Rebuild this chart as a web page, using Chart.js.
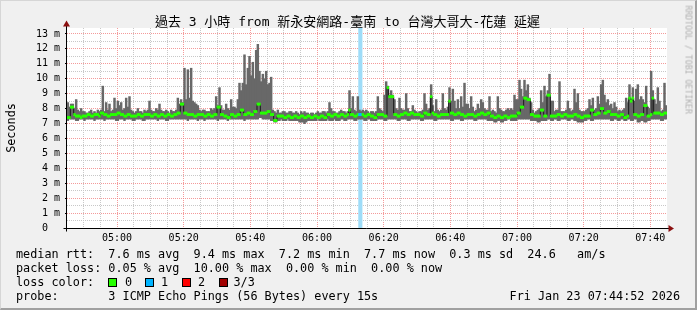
<!DOCTYPE html>
<html><head><meta charset="utf-8">
<script src="https://cdn.jsdelivr.net/npm/chart.js@4.4.0/dist/chart.umd.min.js"></script>
<style>
html,body{margin:0;padding:0;}
body{width:697px;height:310px;overflow:hidden;background:#f0f0f0;position:relative;font-family:"DejaVu Sans Mono",monospace;}
#frame{position:absolute;left:0;top:0;width:697px;height:310px;box-sizing:border-box;border-top:1px solid #d6d6d6;border-left:1px solid #d6d6d6;border-right:2px solid #a0a0a0;border-bottom:2px solid #a0a0a0;pointer-events:none;}
canvas{position:absolute;left:0;top:0;}
.t{position:absolute;white-space:pre;color:#000;}
.leg{left:16px;font-size:11.8px;line-height:14px;height:14px;}
.box{position:absolute;width:7px;height:7px;border:1px solid #000;top:278px;}
</style></head>
<body>
<canvas id="c" width="697" height="310"></canvas>
<div class="t" style="left:0;width:695px;top:13px;text-align:center;font-size:13px;line-height:17px;font-family:'DejaVu Sans Mono','Noto Sans CJK TC',monospace;">過去 3 小時 from 新永安網路-臺南 to 台灣大哥大-花蓮 延遲</div>
<div class="t" style="left:-19px;top:120.5px;width:60px;height:14px;line-height:14px;text-align:center;font-size:11.8px;transform:rotate(-90deg);">Seconds</div>
<div class="t" style="left:633.5px;top:54.5px;width:109px;height:10px;line-height:10px;font-size:8.2px;color:#b0b0b0;transform:rotate(90deg);">RRDTOOL / TOBI OETIKER</div>
<div class="t leg" style="top:247.3px">median rtt:  7.6 ms avg  9.4 ms max  7.2 ms min  7.7 ms now  0.3 ms sd  24.6   am/s</div>
<div class="t leg" style="top:261.3px">packet loss: 0.05 % avg  10.00 % max  0.00 % min  0.00 % now</div>
<div class="t leg" style="top:275.3px">loss color:</div>
<div class="box" style="left:108px;background:#26ff00"></div><div class="t leg" style="top:275.3px;left:125px">0</div>
<div class="box" style="left:145px;background:#00b4ff"></div><div class="t leg" style="top:275.3px;left:161px">1</div>
<div class="box" style="left:182px;background:#ff0000"></div><div class="t leg" style="top:275.3px;left:198px">2</div>
<div class="box" style="left:219px;background:#a10000"></div><div class="t leg" style="top:275.3px;left:233.5px">3/3</div>
<div class="t leg" style="top:289.3px">probe:       3 ICMP Echo Pings (56 Bytes) every 15s</div>
<div class="t leg" style="top:289.3px;left:auto;right:17px">Fri Jan 23 07:44:52 2026</div>
<div id="frame"></div>
<script>
// ---- data (ms), one bin per half minute starting 04:45 ----
const startTime = '04:45';
const stepMinutes = 0.5;
const medianRtt = [
 7.4,7.4,8.1,8.1,7.6,7.5,7.5,7.5,7.4,7.5,7.5,7.5,7.6,7.6,7.5,7.5,7.6,7.6,7.6,7.5,
 7.7,7.7,7.6,7.6,7.5,7.5,7.6,7.6,7.6,7.6,7.7,7.7,7.6,7.6,7.5,7.5,7.6,7.6,7.5,7.5,
 7.5,7.5,7.6,7.6,7.5,7.5,7.6,7.6,7.6,7.6,7.5,7.5,7.6,7.6,7.5,7.5,7.6,7.6,7.5,7.5,
 7.6,7.6,7.5,7.5,7.6,7.6,7.7,7.7,8.3,8.3,7.7,7.7,7.6,7.6,7.6,7.6,7.5,7.5,7.6,7.6,
 7.6,7.6,7.5,7.5,7.6,7.6,7.5,7.5,7.6,7.6,8.1,8.1,7.6,7.6,7.5,7.5,7.4,7.4,7.6,7.6,
 7.5,7.5,7.6,7.6,7.9,7.9,7.6,7.6,7.7,7.7,7.6,7.6,7.8,7.8,8.3,8.3,7.7,7.7,7.7,7.7,
 7.8,7.8,7.6,7.6,7.2,7.2,7.5,7.5,7.5,7.5,7.4,7.4,7.5,7.5,7.4,7.4,7.5,7.5,7.4,7.4,
 7.5,7.5,7.4,7.4,7.5,7.5,7.4,7.4,7.5,7.5,7.4,7.4,7.5,7.5,7.4,7.4,7.6,7.6,7.5,7.5,
 7.6,7.6,7.5,7.5,7.6,7.6,7.5,7.5,7.6,7.9,7.6,7.6,7.5,7.5,7.6,7.6,7.6,7.6,7.5,7.5,
 7.6,7.6,7.5,7.5,7.4,7.4,7.6,7.6,7.6,7.6,7.5,7.5,9.4,8.8,8.8,8.8,7.6,7.6,7.5,7.5,
 7.6,7.6,7.7,7.7,7.6,7.6,7.7,7.7,7.6,7.6,7.6,7.6,7.5,7.5,7.7,7.7,7.6,7.6,8.8,7.7,
 7.6,7.6,7.5,7.5,7.6,7.6,7.6,7.6,7.6,8.5,7.7,7.7,7.6,7.6,7.7,7.7,7.6,7.6,7.5,7.5,
 7.6,7.6,7.6,7.6,7.5,7.5,7.6,7.6,7.7,7.7,7.6,7.6,7.7,7.7,7.5,7.5,7.4,7.4,7.5,7.5,
 7.4,7.4,7.5,7.5,7.4,7.4,7.5,7.5,7.5,7.5,7.7,7.7,8.1,8.1,8.7,8.7,8.6,8.6,7.6,7.6,
 7.5,7.5,7.5,7.5,7.9,7.9,7.5,7.5,8.9,8.9,7.5,7.5,7.5,7.5,7.6,7.6,7.5,7.5,7.6,7.6,
 7.5,7.5,7.5,7.5,7.6,7.6,7.5,7.5,7.4,7.4,7.5,7.5,7.5,7.5,7.9,7.9,7.6,7.6,7.7,7.7,
 8.0,8.0,7.7,7.7,7.8,7.8,7.6,7.6,7.6,7.6,7.5,7.5,7.6,7.6,7.4,7.4,7.5,8.7,8.5,8.7,
 7.6,7.6,7.5,7.5,7.6,7.6,8.2,8.2,7.5,7.5,7.6,8.7,7.7,7.7,7.7,7.7,7.6,7.6,7.7,7.7];
const smokeMax = [
 8.4,8.1,8.3,8.3,8.0,8.6,7.9,7.8,8.0,7.8,7.8,7.7,7.7,7.8,7.9,7.7,7.8,7.7,7.9,7.8,
 7.9,9.5,7.8,8.4,7.9,8.3,7.8,7.9,8.7,8.0,8.5,8.2,8.4,7.9,8.0,8.7,8.1,8.8,7.9,7.8,
 7.7,7.8,8.0,7.8,7.8,7.7,7.9,7.8,7.9,8.5,7.9,7.8,7.8,8.0,7.9,8.3,7.9,7.8,7.8,7.9,
 7.8,7.7,7.9,7.8,7.8,7.9,8.7,8.3,8.6,8.4,10.7,8.6,10.6,8.7,10.7,8.5,8.4,8.3,8.2,7.9,
 7.8,7.9,7.9,7.8,7.8,7.8,8.0,7.9,8.0,8.8,8.2,9.4,8.2,7.9,7.9,8.3,8.0,7.9,8.6,8.1,
 8.1,8.0,8.6,9.7,9.2,9.7,11.6,9.6,10.7,11.5,10.2,11.1,10.0,11.9,12.3,10.5,9.8,10.3,10.0,10.5,
 9.6,9.7,10.1,7.9,7.8,7.7,7.9,7.7,7.7,7.8,7.8,7.7,7.7,7.8,7.8,7.7,7.7,7.8,7.7,7.6,
 7.8,7.7,7.8,7.7,7.7,7.6,7.7,7.7,7.6,7.7,7.8,7.7,7.7,7.8,7.8,7.7,7.8,8.4,8.0,7.8,
 7.8,7.7,7.7,7.8,7.9,7.8,7.8,7.7,7.8,9.2,8.0,8.8,7.9,7.8,8.8,7.9,7.8,7.9,7.8,7.9,
 7.8,7.7,7.8,7.8,7.7,7.8,8.8,8.0,7.9,7.8,8.9,9.8,9.5,8.9,9.2,8.9,8.6,8.0,7.9,8.7,
 8.0,7.9,7.9,9.0,8.0,7.8,7.8,8.2,7.9,7.8,7.7,7.8,7.8,7.9,9.0,8.3,7.9,8.0,9.6,8.2,
 7.8,8.6,7.9,7.8,7.9,9.0,8.0,7.9,8.1,9.4,8.5,9.3,8.5,8.0,8.6,8.0,8.8,8.1,9.7,8.3,
 8.3,8.0,8.8,8.1,7.8,7.9,8.3,8.0,8.6,8.4,8.0,7.9,7.9,8.8,7.8,7.9,7.8,7.7,8.8,8.0,
 7.9,7.8,7.8,7.9,8.0,7.9,8.0,7.9,8.9,8.6,8.6,9.9,9.3,8.8,9.9,9.2,9.6,8.7,8.4,7.9,
 7.7,7.8,7.9,8.0,9.2,8.4,9.5,8.8,9.2,10.3,8.5,8.5,7.8,7.9,7.9,9.8,7.8,7.8,7.8,7.9,
 8.5,8.0,7.8,7.9,9.3,8.4,9.0,7.9,7.8,7.8,7.8,7.9,8.0,8.6,8.2,8.7,7.9,8.0,8.8,8.3,
 9.6,9.9,8.9,8.4,8.6,8.2,8.3,8.0,8.4,8.1,7.8,7.9,7.8,7.9,8.0,8.7,8.4,9.6,8.6,9.4,
 8.5,9.3,9.6,8.6,8.8,8.6,8.4,9.5,8.1,8.0,10.5,9.2,8.6,8.3,9.4,8.5,7.8,7.9,9.7,8.2];
const smokeMin = [
 7.2,7.3,7.3,7.3,7.3,7.2,7.2,7.3,7.3,7.3,7.2,7.3,7.3,7.3,7.3,7.3,7.2,7.3,7.3,7.3,
 7.3,7.3,7.2,7.3,7.3,7.3,7.3,7.3,7.3,7.2,7.2,7.3,7.3,7.3,7.2,7.3,7.3,7.3,7.3,7.2,
 7.2,7.3,7.3,7.3,7.3,7.2,7.2,7.3,7.3,7.3,7.3,7.3,7.3,7.3,7.2,7.3,7.3,7.3,7.3,7.2,
 7.2,7.3,7.3,7.3,7.3,7.3,7.3,7.3,7.3,7.3,7.3,7.3,7.2,7.3,7.3,7.3,7.3,7.3,7.2,7.3,
 7.3,7.3,7.2,7.3,7.3,7.3,7.3,7.3,7.3,7.3,7.2,7.3,7.3,7.3,7.3,7.3,7.2,7.3,7.3,7.3,
 7.3,7.3,7.3,7.3,7.3,7.3,7.2,7.3,7.3,7.3,7.3,7.3,7.3,7.3,7.3,7.4,7.4,7.3,7.3,7.3,
 7.3,7.3,7.2,7.2,7.1,7.1,7.2,7.2,7.3,7.2,7.2,7.2,7.3,7.2,7.2,7.2,7.2,7.2,7.2,7.1,
 7.1,7.1,7.0,7.1,7.2,7.2,7.2,7.2,7.2,7.2,7.3,7.2,7.2,7.2,7.2,7.2,7.3,7.2,7.2,7.2,
 7.3,7.2,7.2,7.2,7.3,7.3,7.2,7.2,7.3,7.3,7.3,7.3,7.2,7.2,7.3,7.3,7.3,7.3,7.2,7.2,
 7.3,7.3,7.2,7.2,7.2,7.2,7.3,7.3,7.3,7.3,7.2,7.2,7.3,7.3,7.3,7.3,7.3,7.3,7.2,7.2,
 7.3,7.3,7.3,7.3,7.2,7.2,7.3,7.3,7.3,7.3,7.3,7.3,7.2,7.2,7.3,7.3,7.3,7.3,7.3,7.3,
 7.2,7.2,7.3,7.3,7.3,7.3,7.3,7.3,7.3,7.3,7.2,7.2,7.3,7.3,7.3,7.3,7.2,7.2,7.3,7.3,
 7.3,7.3,7.3,7.3,7.2,7.2,7.3,7.3,7.3,7.3,7.3,7.3,7.2,7.2,7.2,7.2,7.1,7.1,7.2,7.2,
 7.1,7.1,7.2,7.2,7.3,7.3,7.2,7.2,7.2,7.2,7.3,7.3,7.3,7.3,7.3,7.3,7.3,7.3,7.2,7.2,
 7.2,7.2,7.1,7.1,7.2,7.2,7.2,7.2,7.3,7.3,7.2,7.2,7.3,7.3,7.2,7.2,7.3,7.3,7.3,7.3,
 7.2,7.2,7.3,7.3,7.2,7.2,7.1,7.1,7.1,7.1,7.2,7.2,7.3,7.3,7.2,7.2,7.3,7.3,7.3,7.3,
 7.3,7.3,7.3,7.3,7.3,7.3,7.2,7.2,7.3,7.3,7.2,7.2,7.3,7.3,7.2,7.2,7.3,7.3,7.2,7.2,
 7.3,7.3,7.1,7.1,7.2,7.2,7.1,7.1,7.2,7.2,7.3,7.3,7.3,7.3,7.3,7.3,7.2,7.2,7.3,7.3];
const lossBins = [175, 176];   // bin indexes with packet loss
const lossCounts = [1, 1];     // pings lost (of 3)
const lossColors = ['#26ff00', '#00b8ff', '#ff0000', '#a10000'];
const yTickValues = [0,1,2,3,4,5,6,7,8,9,10,11,12,13];
const yTickLabels = ['0  ','1 m','2 m','3 m','4 m','5 m','6 m','7 m','8 m','9 m','10 m','11 m','12 m','13 m'];
const xTickLabels = ['05:00','05:20','05:40','06:00','06:20','06:40','07:00','07:20','07:40'];
const yMax = 13.4;

// ---- build ----
const toMin = s => { const [h, m] = s.split(':').map(Number); return h * 60 + m; };
const t0 = toMin(startTime);
const nBins = medianRtt.length;
const t1 = t0 + nBins * stepMinutes;
const centers = medianRtt.map((_, i) => t0 + (i + 0.5) * stepMinutes);
const majorX = xTickLabels.map(toMin);
const gridX = [];
for (let v = t0 + 5; v < t1; v += 5) gridX.push(v);
const gridY = [];
yTickValues.forEach(v => { gridY.push(v); if (v < yTickValues[yTickValues.length - 1]) gridY.push(v + 0.5); });

const lossOf = i => { const k = lossBins.indexOf(i); return k < 0 ? 0 : lossCounts[k]; };
const RED = 'rgba(240,120,120,0.75)';
const GRAY = '#c8c8c8';

const plotPlugin = {
  id: 'plotdeco',
  beforeDraw(chart) {
    const {ctx, chartArea: a} = chart;
    ctx.save();
    ctx.fillStyle = '#ffffff';
    ctx.fillRect(a.left, a.top, a.right - a.left, a.bottom - a.top);
    ctx.restore();
  },
  afterDraw(chart) {
    const {ctx, chartArea: a} = chart;
    const x0 = Math.round(a.left) - 0.5;
    const y0 = Math.round(a.bottom) + 0.5;
    ctx.save();
    ctx.strokeStyle = '#000';
    ctx.lineWidth = 1;
    ctx.beginPath();
    ctx.moveTo(x0, y0 + 3); ctx.lineTo(x0, a.top - 4);
    ctx.moveTo(x0 - 3, y0); ctx.lineTo(a.right + 3, y0);
    ctx.stroke();
    ctx.fillStyle = '#8b1010';
    ctx.beginPath();
    ctx.moveTo(x0 - 3.5, a.top - 1.5); ctx.lineTo(x0 + 3.5, a.top - 1.5); ctx.lineTo(x0, a.top - 7.5);
    ctx.closePath(); ctx.fill();
    ctx.beginPath();
    ctx.moveTo(a.right + 1.5, y0 - 3.5); ctx.lineTo(a.right + 1.5, y0 + 3.5); ctx.lineTo(a.right + 7, y0);
    ctx.closePath(); ctx.fill();
    ctx.restore();
  }
};

const barCommon = { borderWidth: 0, barPercentage: 1, categoryPercentage: 1, grouped: false, inflateAmount: 0.4 };

new Chart(document.getElementById('c'), {
  type: 'bar',
  data: {
    datasets: [
      Object.assign({
        label: 'loss',
        data: lossBins.map(b => ({x: centers[b], y: [0, yMax]})),
        backgroundColor: '#9edcf8', order: 10
      }, barCommon),
      Object.assign({
        label: 'smoke',
        data: centers.map((x, i) => ({x, y: [smokeMin[i], smokeMax[i]]})),
        backgroundColor: '#686868', order: 5
      }, barCommon),
      {
        type: 'line', label: 'steps',
        data: centers.map((x, i) => ({x, y: medianRtt[i]})),
        borderColor: '#1a1a1a', borderWidth: 1, pointRadius: 0, stepped: 'middle', order: 3
      },
      Object.assign({
        label: 'median rtt',
        data: centers.map((x, i) => ({x, y: [medianRtt[i] - 0.07, medianRtt[i] + 0.07]})),
        backgroundColor: centers.map((x, i) => lossColors[lossOf(i)]), order: 1
      }, barCommon)
    ]
  },
  options: {
    responsive: false, animation: false, devicePixelRatio: 1, events: [],
    layout: { padding: { left: 0, top: 28, right: 30, bottom: 62 } },
    plugins: { legend: { display: false }, tooltip: { enabled: false }, title: { display: false } },
    scales: {
      x: {
        type: 'linear', min: t0, max: t1, offset: false,
        afterFit: s => { s.height = 20; },
        afterBuildTicks: s => { s.ticks = gridX.map(v => ({value: v})); },
        grid: { offset: false, drawTicks: false, lineWidth: 1,
          color: c => (c.tick && majorX.includes(c.tick.value)) ? RED : GRAY },
        border: { display: false, dash: [1, 1] },
        ticks: { autoSkip: false, maxRotation: 0, padding: 4, color: '#000',
          font: { family: 'DejaVu Sans Mono', size: 10 },
          callback: v => { const k = majorX.indexOf(v); return k < 0 ? '' : xTickLabels[k]; } }
      },
      y: {
        type: 'linear', min: 0, max: yMax,
        afterFit: s => { s.width = 67; },
        afterBuildTicks: s => { s.ticks = gridY.map(v => ({value: v})); },
        grid: { lineWidth: 1, drawTicks: true, tickLength: 2,
          color: c => (c.tick && yTickValues.includes(c.tick.value)) ? RED : GRAY,
          tickColor: c => (c.tick && yTickValues.includes(c.tick.value)) ? '#000' : 'rgba(0,0,0,0)' },
        border: { display: false, dash: [1, 1] },
        ticks: { autoSkip: false, padding: 5, color: '#000',
          font: { family: 'DejaVu Sans Mono', size: 10 },
          callback: v => { const k = yTickValues.indexOf(v); return k < 0 ? '' : yTickLabels[k]; } }
      }
    }
  },
  plugins: [plotPlugin]
});
</script>
</body></html>
